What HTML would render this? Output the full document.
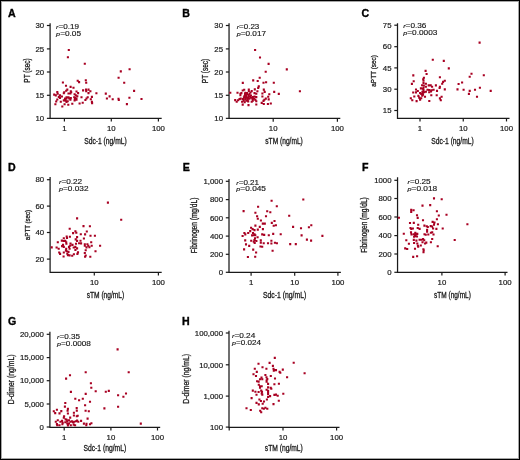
<!DOCTYPE html>
<html><head><meta charset="utf-8"><style>
html,body{margin:0;padding:0;background:#fff;}
body{width:520px;height:460px;overflow:hidden;position:relative;}
svg{position:absolute;left:0;top:0;display:block;filter:blur(0.3px);}
text{font-family:"Liberation Sans",sans-serif;fill:#1a1a1a;}
.tl{font-size:7.8px;stroke:#1a1a1a;stroke-width:0.2px;}
.tt{font-size:8.3px;stroke:#1a1a1a;stroke-width:0.3px;}
.rp{font-size:6.9px;stroke:#1a1a1a;stroke-width:0.15px;}
.lt{font-size:10.6px;font-weight:bold;fill:#000;stroke:#000;stroke-width:0.35px;}
.ax{fill:none;stroke:#1a1a1a;stroke-width:1.25;}
.tk{fill:none;stroke:#1a1a1a;stroke-width:1.2;}
.dt{fill:none;stroke:#a80022;stroke-width:2.1;stroke-linecap:butt;}
.frame{position:absolute;left:0;top:0;width:518px;height:458px;border:1px solid #000;box-shadow:inset 0 0 0 1px rgba(0,0,0,0.35);}
</style></head><body>
<svg width="520" height="460" viewBox="0 0 520 460">
<g><path d="M50.1 23.2V118.35H161.7" class="ax"/><path d="M46.9 25.5H50.1" class="tk"/><text x="44.1" y="28.2" class="tl" text-anchor="end">30</text><path d="M46.9 48.9H50.1" class="tk"/><text x="44.1" y="51.6" class="tl" text-anchor="end">25</text><path d="M46.9 72H50.1" class="tk"/><text x="44.1" y="74.7" class="tl" text-anchor="end">20</text><path d="M46.9 95.3H50.1" class="tk"/><text x="44.1" y="98" class="tl" text-anchor="end">15</text><path d="M46.9 118.35H50.1" class="tk"/><text x="44.1" y="121.05" class="tl" text-anchor="end">10</text><path d="M64.4 118.35V121.55" class="tk"/><text x="64.4" y="131" class="tl" text-anchor="middle">1</text><path d="M111.3 118.35V121.55" class="tk"/><text x="111.3" y="131" class="tl" text-anchor="middle">10</text><path d="M158.4 118.35V121.55" class="tk"/><text x="158.4" y="131" class="tl" text-anchor="middle">100</text><text x="7.9" y="16.6" class="lt">A</text><text x="56.1" y="28.7" class="rp" textLength="22.9" lengthAdjust="spacingAndGlyphs"><tspan font-style="italic" font-size="88%">r</tspan>=0.19</text><text x="56.1" y="35.8" class="rp" textLength="25" lengthAdjust="spacingAndGlyphs"><tspan font-style="italic" font-size="88%">p</tspan>=0.05</text><text transform="translate(29.6 70.5) rotate(-90)" x="0" y="0" text-anchor="middle" class="tt" style="font-size:8.3px" textLength="24.3" lengthAdjust="spacingAndGlyphs">PT (sec)</text><text x="84.2" y="143.7" class="tt" textLength="42.6" lengthAdjust="spacingAndGlyphs">Sdc-1 (ng/mL)</text><path d="M67.75 50h2.1M66.85 57.3h2.1M83.75 63.8h2.1M61.85 82.5h2.1M64.95 85.8h2.1M69.55 86.9h2.1M72.45 87.7h2.1M76.65 80.8h2.1M78.05 82.1h2.1M84.75 80.2h2.1M85.15 82.7h2.1M82.05 90.4h2.1M84.95 89.5h2.1M85.15 91.3h2.1M87.45 89.6h2.1M87.45 93.1h2.1M66.25 89.6h2.1M65.15 90.8h2.1M63.15 92.3h2.1M62.75 93.3h2.1M56.25 92.1h2.1M56.65 93.8h2.1M53.15 94.6h2.1M54.75 95.4h2.1M58.95 95.4h2.1M57.75 96.9h2.1M60.85 96.5h2.1M58.95 97.9h2.1M56.25 99.5h2.1M67.45 93.5h2.1M69.75 91.2h2.1M69.35 93.5h2.1M70.15 92.3h2.1M75.45 91.5h2.1M77.05 93.1h2.1M73.55 94.2h2.1M74.75 95.4h2.1M76.25 96.2h2.1M80.45 97.3h2.1M86.65 97.3h2.1M85.45 98.5h2.1M65.45 97.3h2.1M67.45 97.3h2.1M69.75 98.1h2.1M63.95 98.5h2.1M73.95 98.1h2.1M55.15 101.5h2.1M54.35 104.2h2.1M59.75 101.8h2.1M61.25 106.5h2.1M63.55 104.2h2.1M67.25 104.8h2.1M71.25 103.8h2.1M62.75 100.4h2.1M64.35 99.6h2.1M65.45 98.5h2.1M68.15 98.5h2.1M66.65 101.2h2.1M69.35 99.6h2.1M73.55 100.4h2.1M75.45 99.6h2.1M78.55 103.5h2.1M81.65 102.7h2.1M84.35 100h2.1M65.45 101.9h2.1M119.75 71.4h2.1M117.55 77.8h2.1M89.35 91.2h2.1M95.35 93.2h2.1M104.75 93.6h2.1M108.55 96.4h2.1M105.85 98.5h2.1M111.65 99.2h2.1M117.45 98.7h2.1M123.15 82.7h2.1M90.85 96.9h2.1M89.75 99.2h2.1M90.85 101.9h2.1M91.05 103.1h2.1M117.75 100h2.1M128.55 69.2h2.1M133.05 90.9h2.1M128.35 97.8h2.1M140.45 99h2.1M125.85 104.1h2.1M73.15 97.3h2.1M64.55 100.8h2.1M74.35 99.6h2.1M75.45 98.5h2.1" class="dt"/></g>
<g><path d="M229.05 23.2V118.45H340.3" class="ax"/><path d="M225.85 25.5H229.05" class="tk"/><text x="223.05" y="28.2" class="tl" text-anchor="end">30</text><path d="M225.85 48.9H229.05" class="tk"/><text x="223.05" y="51.6" class="tl" text-anchor="end">25</text><path d="M225.85 72H229.05" class="tk"/><text x="223.05" y="74.7" class="tl" text-anchor="end">20</text><path d="M225.85 95.3H229.05" class="tk"/><text x="223.05" y="98" class="tl" text-anchor="end">15</text><path d="M225.85 118.35H229.05" class="tk"/><text x="223.05" y="121.05" class="tl" text-anchor="end">10</text><path d="M273.2 118.45V121.65" class="tk"/><text x="273.2" y="131" class="tl" text-anchor="middle">10</text><path d="M337.4 118.45V121.65" class="tk"/><text x="337.4" y="131" class="tl" text-anchor="middle">100</text><text x="182.3" y="16.6" class="lt">B</text><text x="236.7" y="29" class="rp" textLength="22.6" lengthAdjust="spacingAndGlyphs"><tspan font-style="italic" font-size="88%">r</tspan>=0.23</text><text x="236.7" y="35.9" class="rp" textLength="29.4" lengthAdjust="spacingAndGlyphs"><tspan font-style="italic" font-size="88%">p</tspan>=0.017</text><text transform="translate(208.3 71) rotate(-90)" x="0" y="0" text-anchor="middle" class="tt" style="font-size:8.3px" textLength="24.3" lengthAdjust="spacingAndGlyphs">PT (sec)</text><text x="265.3" y="143.8" class="tt" textLength="37.5" lengthAdjust="spacingAndGlyphs">sTM (ng/mL)</text><path d="M254.05 50h2.1M258.95 57.5h2.1M267.55 63.9h2.1M285.75 69.4h2.1M264.65 71.7h2.1M258.65 77.8h2.1M252.15 80.4h2.1M256.65 81h2.1M241.75 82.9h2.1M262.45 82.7h2.1M265.05 82.2h2.1M272.75 82.7h2.1M257.75 86.4h2.1M257.15 87.9h2.1M243.15 89.8h2.1M247.75 89.6h2.1M253.75 89.4h2.1M262.75 89.6h2.1M229.25 92.8h2.1M236.45 92.8h2.1M234.15 100.1h2.1M235.65 101.7h2.1M237.05 100.3h2.1M238.45 99.1h2.1M239.65 98.6h2.1M239.35 95.1h2.1M240.35 93.1h2.1M241.65 90.5h2.1M244.25 92.8h2.1M247.75 91.3h2.1M250.65 91.1h2.1M256.35 91.3h2.1M253.45 93.1h2.1M255.25 93.7h2.1M244.25 95.1h2.1M245.95 94.2h2.1M247.45 95.1h2.1M248.85 96.3h2.1M242.85 97.4h2.1M244.85 97.7h2.1M247.45 97.4h2.1M249.75 97.7h2.1M251.75 97.1h2.1M253.45 96.5h2.1M255.25 97.1h2.1M244.25 99.4h2.1M246.55 99.4h2.1M248.35 98.8h2.1M242.55 100.6h2.1M245.45 100.6h2.1M241.05 101.7h2.1M243.65 102.3h2.1M247.15 101.4h2.1M250.65 101.7h2.1M251.75 100.6h2.1M254.35 100h2.1M255.25 101.2h2.1M241.65 104.6h2.1M247.45 105.1h2.1M255.25 104.5h2.1M239.35 93.7h2.1M263.65 91.9h2.1M261.35 93.5h2.1M268.25 94.3h2.1M273.15 91.9h2.1M277.75 93.9h2.1M261.35 96.5h2.1M267.15 96.8h2.1M264.75 98.6h2.1M263.35 99.7h2.1M262.45 100.9h2.1M267.65 99.4h2.1M253.25 98.8h2.1M260.65 102.9h2.1M262.75 104h2.1M266.85 104h2.1M269.75 103.5h2.1M298.85 91.3h2.1M244.95 96h2.1M245.95 97.5h2.1M243.45 96h2.1M245.95 93h2.1M248.45 94h2.1M249.95 95.5h2.1M251.45 99h2.1M241.95 99h2.1M243.95 94h2.1M249.45 92.5h2.1" class="dt"/></g>
<g><path d="M397.5 23.2V118.25H509.5" class="ax"/><path d="M394.3 25.2H397.5" class="tk"/><text x="391.5" y="27.9" class="tl" text-anchor="end">75</text><path d="M394.3 46.7H397.5" class="tk"/><text x="391.5" y="49.4" class="tl" text-anchor="end">60</text><path d="M394.3 67.9H397.5" class="tk"/><text x="391.5" y="70.6" class="tl" text-anchor="end">45</text><path d="M394.3 89.2H397.5" class="tk"/><text x="391.5" y="91.9" class="tl" text-anchor="end">30</text><path d="M394.3 110.5H397.5" class="tk"/><text x="391.5" y="113.2" class="tl" text-anchor="end">15</text><path d="M420 118.25V121.45" class="tk"/><text x="420" y="131" class="tl" text-anchor="middle">1</text><path d="M463.25 118.25V121.45" class="tk"/><text x="463.25" y="131" class="tl" text-anchor="middle">10</text><path d="M506.5 118.25V121.45" class="tk"/><text x="506.5" y="131" class="tl" text-anchor="middle">100</text><text x="361.4" y="16.6" class="lt">C</text><text x="403.2" y="27.8" class="rp" textLength="23.2" lengthAdjust="spacingAndGlyphs"><tspan font-style="italic" font-size="88%">r</tspan>=0.36</text><text x="403.2" y="34.7" class="rp" textLength="34.2" lengthAdjust="spacingAndGlyphs"><tspan font-style="italic" font-size="88%">p</tspan>=0.0003</text><text transform="translate(376.2 70.9) rotate(-90)" x="0" y="0" text-anchor="middle" class="tt" style="font-size:7.4px" textLength="31.6" lengthAdjust="spacingAndGlyphs">aPTT (sec)</text><text x="431.25" y="143.7" class="tt" textLength="42.5" lengthAdjust="spacingAndGlyphs">Sdc-1 (ng/mL)</text><path d="M431.75 59.8h2.1M424.55 70.9h2.1M425.55 74h2.1M412.25 75.4h2.1M422.85 77.8h2.1M422.15 79.2h2.1M422.45 80.6h2.1M412.65 81.2h2.1M410.85 83.9h2.1M421.05 85.2h2.1M424.85 83.8h2.1M424.85 86.7h2.1M419.85 88.4h2.1M422.45 87.8h2.1M414.95 89.5h2.1M416.75 91h2.1M422.45 90.1h2.1M412.15 92.5h2.1M414.95 92.4h2.1M419.05 93h2.1M421.35 91.8h2.1M421.95 94.7h2.1M424.85 91.8h2.1M413.25 96.5h2.1M417.35 95.9h2.1M418.15 97.6h2.1M420.15 98.2h2.1M423.95 96.8h2.1M409.75 98.2h2.1M411.25 100.2h2.1M415.55 101.1h2.1M419.05 99.6h2.1M438.85 77.3h2.1M443.75 80.8h2.1M442.05 81.9h2.1M441.15 83.7h2.1M427.65 85.4h2.1M429.65 85.4h2.1M431.05 86.8h2.1M434.85 85.4h2.1M438.85 86.8h2.1M438.55 88h2.1M443.75 89.4h2.1M421.85 88.8h2.1M426.45 89.7h2.1M428.15 90h2.1M430.45 90.3h2.1M432.55 89.7h2.1M428.15 92.3h2.1M429.95 91.4h2.1M435.95 90.9h2.1M420.15 94h2.1M430.25 95.3h2.1M435.65 95.2h2.1M440.55 96.8h2.1M438.85 98.4h2.1M428.25 101h2.1M439.75 100.2h2.1M478.55 42.6h2.1M442.75 60.9h2.1M447.75 68.4h2.1M470.45 73.8h2.1M468.65 76.7h2.1M482.75 75.2h2.1M461.05 82.5h2.1M457.55 84h2.1M456.45 89.4h2.1M462.55 89.7h2.1M468.65 90.9h2.1M473.95 89.8h2.1M478.85 87.8h2.1M489.65 90.9h2.1M467.85 93.9h2.1M475.95 96.7h2.1M422.45 83h2.1M422.75 85.5h2.1M421.75 93.2h2.1M421.15 95.6h2.1M423.15 92.2h2.1" class="dt"/></g>
<g><path d="M50.1 177V272.4H161.7" class="ax"/><path d="M46.9 179.7H50.1" class="tk"/><text x="44.1" y="182.4" class="tl" text-anchor="end">80</text><path d="M46.9 206.1H50.1" class="tk"/><text x="44.1" y="208.8" class="tl" text-anchor="end">60</text><path d="M46.9 232.5H50.1" class="tk"/><text x="44.1" y="235.2" class="tl" text-anchor="end">40</text><path d="M46.9 259.1H50.1" class="tk"/><text x="44.1" y="261.8" class="tl" text-anchor="end">20</text><path d="M94.3 272.4V275.6" class="tk"/><text x="94.3" y="284.8" class="tl" text-anchor="middle">10</text><path d="M158.4 272.4V275.6" class="tk"/><text x="158.4" y="284.8" class="tl" text-anchor="middle">100</text><text x="8" y="170.9" class="lt">D</text><text x="59" y="184.3" class="rp" textLength="23.2" lengthAdjust="spacingAndGlyphs"><tspan font-style="italic" font-size="88%">r</tspan>=0.22</text><text x="59" y="191" class="rp" textLength="29.5" lengthAdjust="spacingAndGlyphs"><tspan font-style="italic" font-size="88%">p</tspan>=0.032</text><text transform="translate(29.8 225) rotate(-90)" x="0" y="0" text-anchor="middle" class="tt" style="font-size:7.9px" textLength="30.3" lengthAdjust="spacingAndGlyphs">aPTT (sec)</text><text x="86.7" y="298.1" class="tt" textLength="37.5" lengthAdjust="spacingAndGlyphs">sTM (ng/mL)</text><path d="M76.05 218.4h2.1M82.45 226.1h2.1M88.85 226.3h2.1M68.65 228.8h2.1M72.05 233.1h2.1M74.35 231.3h2.1M75.25 232.8h2.1M62.75 238.3h2.1M65.65 236.5h2.1M65.95 238h2.1M68.85 236.8h2.1M76.05 237.1h2.1M56.75 242.3h2.1M60.75 240.6h2.1M62.75 241h2.1M64.25 240.9h2.1M65.15 242.3h2.1M65.35 243.8h2.1M74.65 239.4h2.1M76.05 240.9h2.1M69.45 243.5h2.1M74.95 243.8h2.1M78.05 243.2h2.1M61.95 244.9h2.1M61.05 246.1h2.1M62.75 246.9h2.1M50.65 247.4h2.1M55.55 247.5h2.1M57.65 248.7h2.1M65.15 248.7h2.1M67.95 246.9h2.1M69.15 245.8h2.1M71.45 244.9h2.1M72.65 247.5h2.1M74.35 246.9h2.1M76.05 248.4h2.1M68.55 248.7h2.1M64.85 250.5h2.1M65.65 251.3h2.1M74.35 249.9h2.1M58.15 252.5h2.1M59.05 253.9h2.1M62.75 252.5h2.1M62.55 256.5h2.1M67.45 251.9h2.1M66.25 253.7h2.1M66.85 255.1h2.1M68.55 255.4h2.1M71.15 255.7h2.1M72.85 254.2h2.1M76.35 253.9h2.1M76.95 252.4h2.1M85.75 231.5h2.1M79.75 234.3h2.1M84.05 234.4h2.1M89.45 235.7h2.1M93.85 235.7h2.1M82.85 238.5h2.1M79.45 240.8h2.1M80.05 243.4h2.1M90.15 242.2h2.1M83.75 244.2h2.1M86.35 244.2h2.1M83.75 245.8h2.1M87.25 245.8h2.1M88.35 247.2h2.1M85.45 247.4h2.1M90.65 245.8h2.1M99.05 245.8h2.1M84.65 250.3h2.1M94.45 251.3h2.1M83.75 253h2.1M84.65 255.5h2.1M84.05 256.8h2.1M89.25 256.8h2.1M106.85 202.6h2.1M120.15 219.8h2.1" class="dt"/></g>
<g><path d="M229 178.9V272.45H340.9" class="ax"/><path d="M225.8 181.3H229" class="tk"/><text x="223" y="184" class="tl" text-anchor="end">1,000</text><path d="M225.8 199.6H229" class="tk"/><text x="223" y="202.3" class="tl" text-anchor="end">800</text><path d="M225.8 217.8H229" class="tk"/><text x="223" y="220.5" class="tl" text-anchor="end">600</text><path d="M225.8 236.1H229" class="tk"/><text x="223" y="238.8" class="tl" text-anchor="end">400</text><path d="M225.8 254.3H229" class="tk"/><text x="223" y="257" class="tl" text-anchor="end">200</text><path d="M225.8 272.3H229" class="tk"/><text x="223" y="275" class="tl" text-anchor="end">0</text><path d="M251.1 272.45V275.65" class="tk"/><text x="251.1" y="284.8" class="tl" text-anchor="middle">1</text><path d="M294.7 272.45V275.65" class="tk"/><text x="294.7" y="284.8" class="tl" text-anchor="middle">10</text><path d="M337.9 272.45V275.65" class="tk"/><text x="337.9" y="284.8" class="tl" text-anchor="middle">100</text><text x="182.7" y="170.9" class="lt">E</text><text x="236.3" y="184.7" class="rp" textLength="22.8" lengthAdjust="spacingAndGlyphs"><tspan font-style="italic" font-size="88%">r</tspan>=0.21</text><text x="236.3" y="191.4" class="rp" textLength="29.7" lengthAdjust="spacingAndGlyphs"><tspan font-style="italic" font-size="88%">p</tspan>=0.045</text><text transform="translate(196.6 225.4) rotate(-90)" x="0" y="0" text-anchor="middle" class="tt" style="font-size:8.3px" textLength="55.5" lengthAdjust="spacingAndGlyphs">Fibrinogen (mg/dL)</text><text x="263" y="297.9" class="tt" textLength="43.2" lengthAdjust="spacingAndGlyphs">Sdc-1 (ng/mL)</text><path d="M270.55 200.8h2.1M275.75 206.3h2.1M257.05 206.7h2.1M242.55 211.1h2.1M254.35 212.8h2.1M266.15 211.2h2.1M269.25 212.3h2.1M256.05 216.2h2.1M264.95 216.2h2.1M256.75 218.8h2.1M259.85 220.5h2.1M273.45 221h2.1M270.75 222.9h2.1M261.75 223.6h2.1M263.75 223.6h2.1M272.65 225.8h2.1M274.85 225.3h2.1M254.35 225.6h2.1M258.75 226.9h2.1M250.05 227.7h2.1M251.55 229.1h2.1M253.45 230.1h2.1M256.75 229.6h2.1M261.85 229.1h2.1M249.15 231.1h2.1M247.15 233h2.1M243.35 233h2.1M244.25 234.4h2.1M251.95 233h2.1M253.45 234.2h2.1M261.15 234.4h2.1M272.15 233.9h2.1M241.55 236h2.1M251.05 235.4h2.1M252.75 235.2h2.1M254.25 235.2h2.1M253.95 238.4h2.1M256.55 237.2h2.1M253.35 240.1h2.1M255.35 241h2.1M252.75 241.8h2.1M253.65 243h2.1M244.15 240.4h2.1M250.15 240.7h2.1M244.95 244.4h2.1M248.15 245.9h2.1M243.05 249.4h2.1M252.15 249.6h2.1M255.05 252.5h2.1M263.15 234.9h2.1M267.75 235.2h2.1M279.65 234.3h2.1M259.75 240.4h2.1M259.75 242.7h2.1M262.65 243.3h2.1M266.95 243.3h2.1M270.35 240.7h2.1M270.35 243.5h2.1M273.85 242.7h2.1M275.85 243.3h2.1M259.45 246.5h2.1M261.15 246.8h2.1M271.55 250.8h2.1M246.85 257h2.1M254.15 256.7h2.1M302.25 199.5h2.1M288.15 215.7h2.1M292.05 226.9h2.1M299.95 228.2h2.1M307.85 227.3h2.1M310.25 225.2h2.1M300.55 235.4h2.1M321.35 235.9h2.1M289.15 244.1h2.1M294.75 244.1h2.1M305.85 239.6h2.1M310.05 240.6h2.1" class="dt"/></g>
<g><path d="M397.55 177.3V272.35H507.5" class="ax"/><path d="M394.35 180.3H397.55" class="tk"/><text x="391.55" y="183" class="tl" text-anchor="end">1000</text><path d="M394.35 198.5H397.55" class="tk"/><text x="391.55" y="201.2" class="tl" text-anchor="end">800</text><path d="M394.35 217H397.55" class="tk"/><text x="391.55" y="219.7" class="tl" text-anchor="end">600</text><path d="M394.35 235.6H397.55" class="tk"/><text x="391.55" y="238.3" class="tl" text-anchor="end">400</text><path d="M394.35 254H397.55" class="tk"/><text x="391.55" y="256.7" class="tl" text-anchor="end">200</text><path d="M394.35 272.3H397.55" class="tk"/><text x="391.55" y="275" class="tl" text-anchor="end">0</text><path d="M441.9 272.35V275.55" class="tk"/><text x="441.9" y="284.8" class="tl" text-anchor="middle">10</text><path d="M505.1 272.35V275.55" class="tk"/><text x="505.1" y="284.8" class="tl" text-anchor="middle">100</text><text x="362.1" y="170.9" class="lt">F</text><text x="407.5" y="184.1" class="rp" textLength="23.2" lengthAdjust="spacingAndGlyphs"><tspan font-style="italic" font-size="88%">r</tspan>=0.25</text><text x="407.5" y="190.7" class="rp" textLength="29.7" lengthAdjust="spacingAndGlyphs"><tspan font-style="italic" font-size="88%">p</tspan>=0.018</text><text transform="translate(367.2 225) rotate(-90)" x="0" y="0" text-anchor="middle" class="tt" style="font-size:8.3px" textLength="55.6" lengthAdjust="spacingAndGlyphs">Fibrinogen (mg/dL)</text><text x="434.1" y="298" class="tt" textLength="36.7" lengthAdjust="spacingAndGlyphs">sTM (ng/mL)</text><path d="M432.95 198.4h2.1M440.65 199.3h2.1M421.45 205.6h2.1M429.15 205.1h2.1M410.15 209.7h2.1M410.15 211.9h2.1M412.55 210.2h2.1M435.85 211.2h2.1M397.85 217.7h2.1M415.95 215.3h2.1M416.65 217.9h2.1M437.75 215.5h2.1M445.45 214.8h2.1M421.95 220.3h2.1M435.85 219.3h2.1M408.95 223h2.1M412.75 222.9h2.1M431.55 221.9h2.1M433.45 222.5h2.1M417.15 224.8h2.1M432.95 224.6h2.1M436.85 224.3h2.1M423.35 225.6h2.1M425.75 226.3h2.1M426.75 227h2.1M429.65 226.1h2.1M431.05 226.5h2.1M409.45 228h2.1M411.85 228.5h2.1M416.65 228h2.1M418.55 228.9h2.1M432.05 228.5h2.1M435.35 228.9h2.1M441.65 228.5h2.1M410.25 229h2.1M426.05 229.9h2.1M426.05 231.6h2.1M402.75 233.7h2.1M409.95 232.4h2.1M410.45 234.5h2.1M412.75 234.2h2.1M414.25 232.8h2.1M414.55 234.5h2.1M413.95 236.3h2.1M416.25 233.9h2.1M415.95 236.5h2.1M413.05 236.8h2.1M423.45 234.2h2.1M427.25 234.5h2.1M405.25 240.3h2.1M412.75 239.9h2.1M415.35 240.6h2.1M418.55 239.7h2.1M420.55 239.7h2.1M422.05 239.1h2.1M423.15 240.3h2.1M413.05 243h2.1M416.25 243.5h2.1M416.85 245.8h2.1M417.15 246.8h2.1M419.75 245.5h2.1M421.45 242.3h2.1M424.05 243.5h2.1M425.25 242.6h2.1M407.85 243.8h2.1M404.15 248.4h2.1M406.15 249h2.1M413.95 248.7h2.1M422.35 249.2h2.1M436.65 246.2h2.1M422.65 250.2h2.1M422.45 252.3h2.1M412.15 256.9h2.1M416.05 256.3h2.1M466.35 224.3h2.1M429.85 232.8h2.1M431.15 232.2h2.1M432.45 234.5h2.1M424.65 234.8h2.1M431.15 239h2.1M429.85 242.2h2.1M453.65 240h2.1" class="dt"/></g>
<g><path d="M49.9 331.7V427.3H160.2" class="ax"/><path d="M46.7 334.3H49.9" class="tk"/><text x="43.9" y="337" class="tl" text-anchor="end">20,000</text><path d="M46.7 357.6H49.9" class="tk"/><text x="43.9" y="360.3" class="tl" text-anchor="end">15,000</text><path d="M46.7 380.7H49.9" class="tk"/><text x="43.9" y="383.4" class="tl" text-anchor="end">10,000</text><path d="M46.7 404H49.9" class="tk"/><text x="43.9" y="406.7" class="tl" text-anchor="end">5,000</text><path d="M46.7 427H49.9" class="tk"/><text x="43.9" y="429.7" class="tl" text-anchor="end">0</text><path d="M64.2 427.3V430.5" class="tk"/><text x="64.2" y="440.4" class="tl" text-anchor="middle">1</text><path d="M110.9 427.3V430.5" class="tk"/><text x="110.9" y="440.4" class="tl" text-anchor="middle">10</text><path d="M157.5 427.3V430.5" class="tk"/><text x="157.5" y="440.4" class="tl" text-anchor="middle">100</text><text x="8" y="324.7" class="lt">G</text><text x="57.1" y="338.6" class="rp" textLength="22.8" lengthAdjust="spacingAndGlyphs"><tspan font-style="italic" font-size="88%">r</tspan>=0.35</text><text x="57.1" y="345.5" class="rp" textLength="33.8" lengthAdjust="spacingAndGlyphs"><tspan font-style="italic" font-size="88%">p</tspan>=0.0008</text><text transform="translate(14.3 379.4) rotate(-90)" x="0" y="0" text-anchor="middle" class="tt" style="font-size:8.3px" textLength="49.8" lengthAdjust="spacingAndGlyphs">D-dimer (ng/mL)</text><text x="83.5" y="450.6" class="tt" textLength="42.7" lengthAdjust="spacingAndGlyphs">Sdc-1 (ng/mL)</text><path d="M84.65 372.2h2.1M68.95 375.3h2.1M65.05 378.6h2.1M89.85 383.3h2.1M90.25 387.8h2.1M69.85 391.9h2.1M74.25 398.7h2.1M78.05 400.3h2.1M64.25 403h2.1M63.85 406.6h2.1M66.85 408.8h2.1M75.65 408.1h2.1M55.85 409.8h2.1M66.55 410.8h2.1M66.85 413.5h2.1M75.75 410.8h2.1M72.85 412.8h2.1M72.85 415.5h2.1M75.75 416.3h2.1M76.65 415.7h2.1M52.75 411.3h2.1M54.15 413.1h2.1M58.45 413.4h2.1M60.25 411.1h2.1M63.05 416.3h2.1M62.75 417.7h2.1M69.15 417.6h2.1M56.75 420.3h2.1M54.75 421.7h2.1M55.85 424h2.1M56.15 425.2h2.1M58.45 425.2h2.1M59.35 421.7h2.1M61.05 420.9h2.1M61.65 422.9h2.1M61.35 424.3h2.1M64.55 419.4h2.1M65.65 419.7h2.1M66.25 421.2h2.1M64.25 422.3h2.1M66.25 423.5h2.1M66.85 425.5h2.1M67.95 420.3h2.1M69.45 421.7h2.1M70.85 421.4h2.1M72.05 422.3h2.1M73.15 421.7h2.1M74.95 421.2h2.1M76.05 420.6h2.1M77.25 421.7h2.1M69.75 425.2h2.1M72.65 424.6h2.1M74.05 425.2h2.1M67.95 423.5h2.1M94.65 391.2h2.1M84.65 393.9h2.1M81.75 398.8h2.1M88.95 401.8h2.1M84.05 405.2h2.1M103.35 408.4h2.1M84.55 410.8h2.1M87.75 411.2h2.1M86.55 418.6h2.1M80.05 420.9h2.1M82.85 423.6h2.1M85.45 423.8h2.1M85.25 425.2h2.1M88.95 424.3h2.1M90.35 423.3h2.1M116.55 349.4h2.1M127.65 372.2h2.1M104.75 391.7h2.1M107.75 390.9h2.1M117.05 395.2h2.1M122.35 396.7h2.1M124.95 393.5h2.1M117.05 406.8h2.1M139.75 423.6h2.1" class="dt"/></g>
<g><path d="M229 330.8V427.35H339.5" class="ax"/><path d="M225.8 333H229" class="tk"/><text x="223" y="335.7" class="tl" text-anchor="end">100,000</text><path d="M225.8 364.8H229" class="tk"/><text x="223" y="367.5" class="tl" text-anchor="end">10,000</text><path d="M225.8 396.1H229" class="tk"/><text x="223" y="398.8" class="tl" text-anchor="end">1,000</text><path d="M225.8 427.1H229" class="tk"/><text x="223" y="429.8" class="tl" text-anchor="end">100</text><path d="M229.2 427.35V430.55" class="tk"/><text x="229.2" y="440.4" class="tl" text-anchor="middle"></text><path d="M283 427.35V430.55" class="tk"/><text x="283" y="440.4" class="tl" text-anchor="middle">10</text><path d="M336.6 427.35V430.55" class="tk"/><text x="336.6" y="440.4" class="tl" text-anchor="middle">100</text><text x="182.1" y="324.7" class="lt">H</text><text x="232" y="337.5" class="rp" textLength="23.3" lengthAdjust="spacingAndGlyphs"><tspan font-style="italic" font-size="88%">r</tspan>=0.24</text><text x="232" y="344.7" class="rp" textLength="29" lengthAdjust="spacingAndGlyphs"><tspan font-style="italic" font-size="88%">p</tspan>=0.024</text><text transform="translate(189 378.9) rotate(-90)" x="0" y="0" text-anchor="middle" class="tt" style="font-size:8.3px" textLength="49.8" lengthAdjust="spacingAndGlyphs">D-dimer (ng/mL)</text><text x="264.8" y="450.6" class="tt" textLength="38" lengthAdjust="spacingAndGlyphs">sTM (ng/mL)</text><path d="M273.75 357.9h2.1M268.55 362.9h2.1M257.45 363.7h2.1M271.85 365.9h2.1M261.45 367.3h2.1M265.35 368.8h2.1M253.75 368.7h2.1M272.45 368.8h2.1M273.95 370h2.1M272.75 370.8h2.1M278.55 371.9h2.1M255.75 371.9h2.1M252.45 374.2h2.1M254.95 376h2.1M264.35 375h2.1M269.75 376h2.1M260.45 377.5h2.1M265.45 377.3h2.1M273.95 378.5h2.1M258.95 379.2h2.1M266.25 379.1h2.1M261.25 379.3h2.1M256.05 381.2h2.1M257.55 381.6h2.1M265.55 380.5h2.1M265.55 381.6h2.1M267.05 383.9h2.1M273.35 384.2h2.1M257.75 384.8h2.1M258.95 386.3h2.1M260.65 386.3h2.1M258.95 387.7h2.1M267.05 387.4h2.1M269.65 387.7h2.1M270.25 388.8h2.1M265.55 389.7h2.1M267.05 390.9h2.1M267.05 392.3h2.1M267.05 394h2.1M267.05 396.9h2.1M269.05 396.1h2.1M273.35 394.9h2.1M251.75 390.6h2.1M254.35 391.7h2.1M257.55 392h2.1M260.15 390.6h2.1M260.95 391.7h2.1M260.65 393.5h2.1M261.25 394.6h2.1M255.45 394.8h2.1M250.55 398.1h2.1M258.35 399.5h2.1M265.85 399.5h2.1M276.65 395.8h2.1M259.85 401h2.1M262.95 401.5h2.1M277.75 400.8h2.1M255.45 402.9h2.1M257.75 404.4h2.1M261.65 403.8h2.1M272.45 404.1h2.1M245.45 408.2h2.1M249.75 410h2.1M261.25 408.2h2.1M262.75 408.7h2.1M264.35 407.7h2.1M266.25 408.7h2.1M259.15 410.8h2.1M260.15 412.3h2.1M292.65 362.8h2.1M274.95 370.1h2.1M281.75 369.6h2.1M279.25 372.8h2.1M303.55 373.2h2.1M286.05 377.2h2.1M277.85 383.7h2.1M274.95 394.6h2.1M282.25 393.8h2.1" class="dt"/></g>
</svg>
<div class="frame"></div>
</body></html>
